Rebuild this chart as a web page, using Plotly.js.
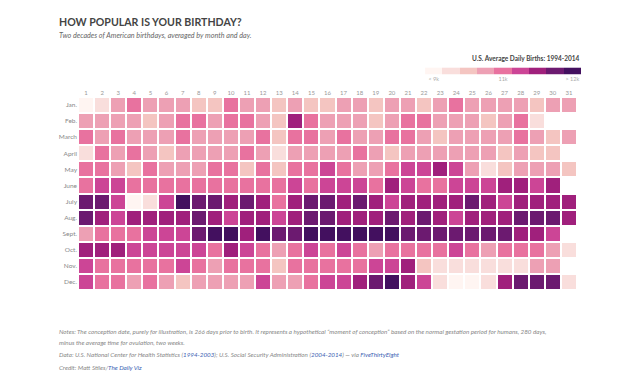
<!DOCTYPE html>
<html>
<head>
<meta charset="utf-8">
<script src="https://cdn.plot.ly/plotly-3.0.1.min.js"></script>
<style>html,body{margin:0;padding:0;background:#fff;}#chart{width:640px;height:384px;}</style>
</head>
<body>
<div id="chart"></div>
<script>
// Day-of-month columns and month rows
const days = [1,2,3,4,5,6,7,8,9,10,11,12,13,14,15,16,17,18,19,20,21,22,23,24,25,26,27,28,29,30,31];
const months = ["Jan.","Feb.","March","April","May","June","July","Aug.","Sept.","Oct.","Nov.","Dec."];

// Colour bin (1 = fewest births ... 9 = most) read for each day
const jan = [1,2,4,5,4,4,4,3,3,5,4,4,3,4,3,3,4,4,3,4,4,3,4,5,4,4,4,4,3,4,4];
const feb = [4,4,4,4,3,4,5,5,4,5,5,4,3,7,5,4,4,4,3,4,5,5,4,4,4,3,4,5,2,null,null];
const mar = [5,4,5,4,4,4,5,4,4,4,4,5,3,5,5,4,5,4,4,5,5,4,3,4,4,4,4,5,4,3,4];
const apr = [2,5,4,5,4,3,4,4,4,4,5,4,2,4,4,4,4,5,4,3,4,4,4,4,4,4,3,4,3,3,null];
const may = [5,5,4,3,5,4,4,4,5,5,3,5,3,5,5,6,5,4,4,5,6,6,7,6,4,2,3,4,4,4,3];
const jun = [5,6,6,5,5,5,5,5,5,5,5,5,5,6,5,6,6,6,5,7,6,5,5,6,6,6,7,7,6,7,null];
const jul = [8,8,6,1,2,6,9,8,8,7,8,7,5,7,8,8,7,8,7,6,7,7,7,7,8,7,6,7,7,7,7];
const aug = [8,7,6,7,7,7,7,8,7,6,7,7,6,7,8,8,7,7,7,8,7,8,7,6,7,7,7,8,8,8,7];
const sep = [4,5,5,5,6,6,6,8,9,9,7,9,8,8,9,9,9,9,9,9,8,8,8,8,8,8,8,7,7,6,null];
const oct = [7,7,7,6,6,6,6,6,5,7,6,5,4,5,6,5,6,5,4,5,5,5,5,6,5,4,5,5,5,4,2];
const nov = [6,5,5,5,5,5,6,5,4,5,5,5,3,5,5,5,5,5,6,6,7,3,2,2,2,2,2,2,4,4,null];
const dec = [6,5,5,4,5,4,3,4,4,4,4,6,4,4,5,6,6,7,8,9,7,6,2,1,1,2,7,8,8,8,2];

// Legend bins and labels
const bins = [1,2,3,4,5,6,7,8,9];
const binTickVals = [1,5,9];
const binTickText = ["< 9k","11k","> 12k"];
const binColors = ["#fff5f2","#f9dedc","#f4c5c1","#eda0b4","#e8729f","#cc4596","#a0207c","#6c1a70","#43105f"];

const z = [jan,feb,mar,apr,may,jun,jul,aug,sep,oct,nov,dec];

function discreteScale(cols){
  const n = cols.length, s = [];
  cols.forEach((c,i)=>{ s.push([i/n,c]); s.push([(i+1)/n,c]); });
  return s;
}
const cs = discreteScale(binColors);

const main = {
  type:'heatmap', x:days, y:months, z:z,
  colorscale:cs, zmin:0.5, zmax:9.5, showscale:false,
  xgap:2, ygap:2, hoverinfo:'skip', xaxis:'x', yaxis:'y'
};
const legendBar = {
  type:'heatmap', x:bins, y:[0], z:[bins],
  colorscale:cs, zmin:0.5, zmax:9.5, showscale:false,
  xgap:0, ygap:0, hoverinfo:'skip', xaxis:'x2', yaxis:'y2'
};

const F = 'Lato, "Source Sans Pro", "Open Sans", sans-serif';
const link = s => '<span style="color:#3c5fb3">'+s+'</span>';

const layout = {
  width:640, height:384,
  margin:{l:78, r:59, t:55, b:94},
  paper_bgcolor:'#fff', plot_bgcolor:'#fff',
  font:{family:F, color:'#888'},
  xaxis:{domain:[0,0.992], range:[0.5,31.5], side:'top', tickvals:days, ticks:'', tickfont:{size:6,color:'#999'}, showgrid:false, zeroline:false, showline:false, fixedrange:true},
  yaxis:{domain:[0,0.8213], autorange:'reversed', ticks:'', tickfont:{size:6.5,color:'#888'}, showgrid:false, zeroline:false, showline:false, fixedrange:true},
  xaxis2:{domain:[0.690,1], anchor:'y2', range:[0.5,9.5], side:'bottom', tickvals:binTickVals, ticktext:binTickText, ticks:'', tickfont:{size:5.5,color:'#aaa'}, showgrid:false, zeroline:false, showline:false},
  yaxis2:{domain:[0.917,0.947], anchor:'x2', showticklabels:false, ticks:'', showgrid:false, zeroline:false, showline:false},
  annotations:[
    {xref:'paper', yref:'paper', x:-0.0417, y:1.140, xanchor:'left', yanchor:'middle', showarrow:false,
     text:'<b>HOW POPULAR IS YOUR BIRTHDAY?</b>', font:{family:F, size:10.6, color:'#444'}},
    {xref:'paper', yref:'paper', x:-0.0417, y:1.081, xanchor:'left', yanchor:'middle', showarrow:false,
     text:'<i>Two decades of American birthdays, averaged by month and day.</i>', font:{family:F, size:7.2, color:'#666'}},
    {xref:'paper', yref:'paper', x:1.0, y:0.983, xanchor:'right', yanchor:'middle', showarrow:false,
     text:'<b>U.S. Average Daily Births: 1994-2014</b>', font:{family:F, size:6.5, color:'#444'}},
    {xref:'paper', yref:'paper', x:-0.0417, y:-0.1774, xanchor:'left', yanchor:'middle', showarrow:false,
     text:'<i>Notes: The conception date, purely for illustration, is 266 days prior to birth. It represents a hypothetical “moment of conception” based on the normal gestation period for humans, 280 days,</i>', font:{family:F, size:6.25, color:'#888'}},
    {xref:'paper', yref:'paper', x:-0.0417, y:-0.2243, xanchor:'left', yanchor:'middle', showarrow:false,
     text:'<i>minus the average time for ovulation, two weeks.</i>', font:{family:F, size:6.25, color:'#888'}},
    {xref:'paper', yref:'paper', x:-0.0417, y:-0.2753, xanchor:'left', yanchor:'middle', showarrow:false,
     text:'<i>Data: U.S. National Center for Health Statistics ('+link('1994-2003')+'); U.S. Social Security Administration ('+link('2004-2014')+') — via '+link('FiveThirtyEight')+'</i>', font:{family:F, size:6.25, color:'#888'}},
    {xref:'paper', yref:'paper', x:-0.0417, y:-0.3306, xanchor:'left', yanchor:'middle', showarrow:false,
     text:'<i>Credit: Matt Stiles/'+link('The Daily Viz')+'</i>', font:{family:F, size:6.25, color:'#888'}}
  ]
};

Plotly.newPlot('chart',[main,legendBar],layout,{displayModeBar:false, staticPlot:true});
</script>
</body>
</html>
